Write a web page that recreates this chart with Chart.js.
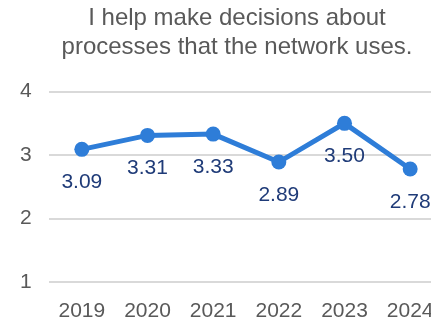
<!DOCTYPE html>
<html>
<head>
<meta charset="utf-8">
<script src="https://cdn.jsdelivr.net/npm/chart.js@4/dist/chart.umd.min.js"></script>
<style>
  html, body { margin: 0; padding: 0; background: #fff; overflow: hidden; }
  #chart { display: block; }
</style>
</head>
<body>
<canvas id="chart" width="443" height="323"></canvas>
<script>
const years = ['2019', '2020', '2021', '2022', '2023', '2024'];
const scores = [3.09, 3.31, 3.33, 2.89, 3.50, 2.78];
const yTicks = [1, 2, 3, 4];
const titleLines = ['I help make decisions about', 'processes that the network uses.'];

const FONT = "'Liberation Sans', Arial, sans-serif";

// writes each score under its point
const valueLabels = {
  id: 'valueLabels',
  afterDatasetsDraw(chart) {
    const ctx = chart.ctx;
    const meta = chart.getDatasetMeta(0);
    ctx.save();
    ctx.font = '21px ' + FONT;
    ctx.fillStyle = '#1F3B78';
    ctx.textAlign = 'center';
    ctx.textBaseline = 'middle';
    meta.data.forEach((pt, i) => {
      ctx.fillText(scores[i].toFixed(2), pt.x, pt.y + 33);
    });
    ctx.restore();
  }
};

new Chart(document.getElementById('chart'), {
  type: 'line',
  data: {
    labels: years,
    datasets: [{
      data: scores,
      borderColor: '#2E7DD8',
      backgroundColor: '#2E7DD8',
      borderWidth: 5,
      pointRadius: 7.5,
      pointHoverRadius: 7.5,
      pointBorderWidth: 0,
      tension: 0
    }]
  },
  options: {
    responsive: false,
    animation: false,
    layout: {
      autoPadding: false,
      padding: { left: 31, right: 0, top: 0, bottom: 0 }
    },
    plugins: {
      legend: { display: false },
      tooltip: { enabled: false },
      title: {
        display: true,
        text: titleLines,
        color: '#595959',
        font: { family: FONT, size: 24, weight: 'normal', lineHeight: 1.2 },
        padding: { top: 4, bottom: 30 }
      }
    },
    scales: {
      x: {
        offset: true,
        afterFit(scale) {
          scale.height = 41;
          // year labels fit inside the category slots, no side margin needed
          scale.paddingLeft = 0;
          scale.paddingRight = 0;
        },
        grid: { display: false, drawTicks: false },
        border: { display: false },
        ticks: {
          color: '#595959',
          font: { family: FONT, size: 21 },
          padding: 17,
          maxRotation: 0
        }
      },
      y: {
        min: yTicks[0],
        max: yTicks[yTicks.length - 1],
        afterBuildTicks(scale) {
          scale.ticks = yTicks.map(v => ({ value: v }));
        },
        afterFit(scale) {
          scale.width = 18;
        },
        grid: { color: '#D9D9D9', lineWidth: 2, drawTicks: false },
        border: { display: false },
        ticks: {
          color: '#595959',
          font: { family: FONT, size: 21 },
          mirror: true,
          padding: -29
        }
      }
    }
  },
  plugins: [valueLabels]
});
</script>
</body>
</html>
